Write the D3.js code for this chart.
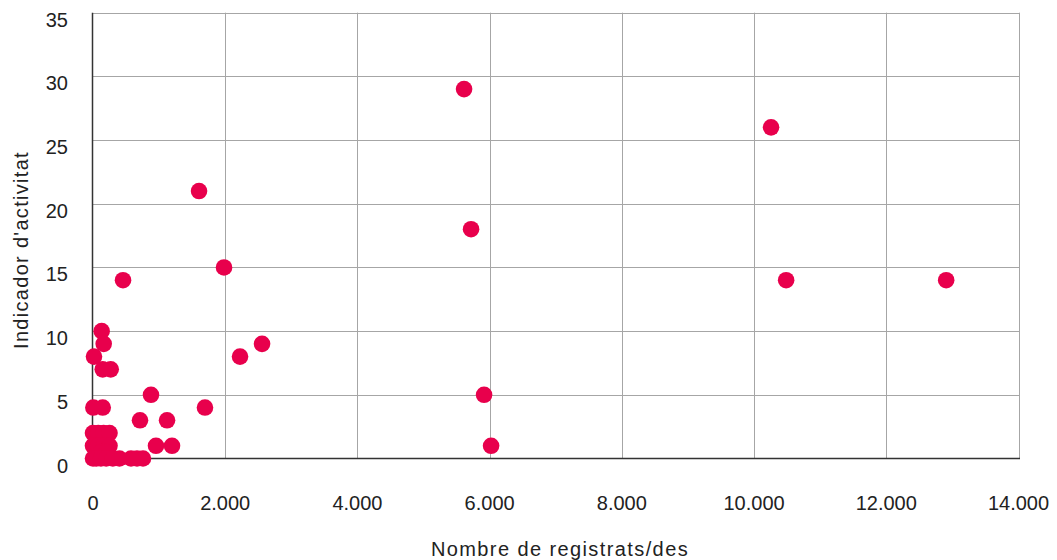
<!DOCTYPE html>
<html>
<head>
<meta charset="utf-8">
<script src="https://cdn.jsdelivr.net/npm/d3@7"></script>
<style>
  html, body { margin: 0; padding: 0; background: #fff; }
  svg { display: block; font-family: "Liberation Sans", Arial, sans-serif; }
</style>
</head>
<body>
<svg id="chart" width="1057" height="560"></svg>
<script>
// Data: registrations (x) vs activity indicator (y)
const registrats = [
  5613, 10257, 1604, 5719, 1982, 454, 10485, 12906, 2557, 2224,
  5916, 877, 1694, 711, 1120, 953, 1195, 6022,
  131, 162, 15, 147, 268, 5, 147,
  0, 80, 160, 250,
  0, 80, 160, 250, 120, 200,
  0, 50, 120, 200, 300, 400, 575, 666, 756
];
const activitat = [
  29, 26, 21, 18, 15, 14, 14, 14, 9, 8,
  5, 5, 4, 3, 3, 1, 1, 1,
  10, 9, 8, 7, 7, 4, 4,
  2, 2, 2, 2,
  1, 1, 1, 1, 0.5, 0.5,
  0, 0, 0, 0, 0, 0, 0, 0, 0
];
const xTicks = [0, 2000, 4000, 6000, 8000, 10000, 12000, 14000];
const yTicks = [0, 5, 10, 15, 20, 25, 30, 35];
const xTitle = "Nombre de registrats/des";
const yTitle = "Indicador d'activitat";

(function () {
const svg = d3.select("#chart");
const mLeft = 93, mRight = 1018.5, mTop = 12.7, mBottom = 458.5;

const x = d3.scaleLinear().domain([0, 14000]).range([mLeft, mRight]);
const y = d3.scaleLinear().domain([0, 35]).range([mBottom, mTop]);
const fmt = d => d3.format(",")(d).replace(/,/g, ".");

// Grid
svg.append("g").selectAll("line").data(yTicks.filter(d => d > 0)).join("line")
  .attr("x1", mLeft).attr("x2", mRight + 1.5)
  .attr("y1", d => Math.round(y(d)) + 0.5).attr("y2", d => Math.round(y(d)) + 0.5)
  .attr("stroke", "#a6a6a6").attr("stroke-width", 1);
svg.append("g").selectAll("line").data(xTicks.filter(d => d > 0)).join("line")
  .attr("x1", d => Math.round(x(d)) + 0.5).attr("x2", d => Math.round(x(d)) + 0.5)
  .attr("y1", mTop).attr("y2", mBottom)
  .attr("stroke", "#a6a6a6").attr("stroke-width", 1);

// Axis lines
svg.append("line").attr("x1", mLeft - 0.5).attr("x2", mLeft - 0.5).attr("y1", mTop).attr("y2", mBottom + 1)
  .attr("stroke", "#333").attr("stroke-width", 1.5);
svg.append("line").attr("x1", mLeft - 1).attr("x2", mRight + 1.5).attr("y1", mBottom).attr("y2", mBottom)
  .attr("stroke", "#333").attr("stroke-width", 1.5);

// Tick labels
svg.append("g").selectAll("text").data(yTicks).join("text")
  .attr("x", 68).attr("y", d => y(d) + 14)
  .attr("text-anchor", "end").attr("font-size", 20).attr("fill", "#222")
  .text(d => d);
svg.append("g").selectAll("text").data(xTicks).join("text")
  .attr("x", d => x(d)).attr("y", 510)
  .attr("text-anchor", "middle").attr("font-size", 20).attr("fill", "#222")
  .text(fmt);

// Titles
svg.append("text").attr("x", 560).attr("y", 556).attr("text-anchor", "middle")
  .attr("font-size", 20).attr("letter-spacing", 1.4).attr("fill", "#222").text(xTitle);
svg.append("text").attr("transform", "translate(27.5,250) rotate(-90)")
  .attr("text-anchor", "middle").attr("font-size", 20).attr("letter-spacing", 1.3).attr("fill", "#222").text(yTitle);

// Points
svg.append("g").selectAll("circle").data(registrats.map((r, i) => [r, activitat[i]])).join("circle")
  .attr("cx", d => x(d[0])).attr("cy", d => y(d[1]))
  .attr("r", 8.3).attr("fill", "#e8004c");
})();
</script>
</body>
</html>
